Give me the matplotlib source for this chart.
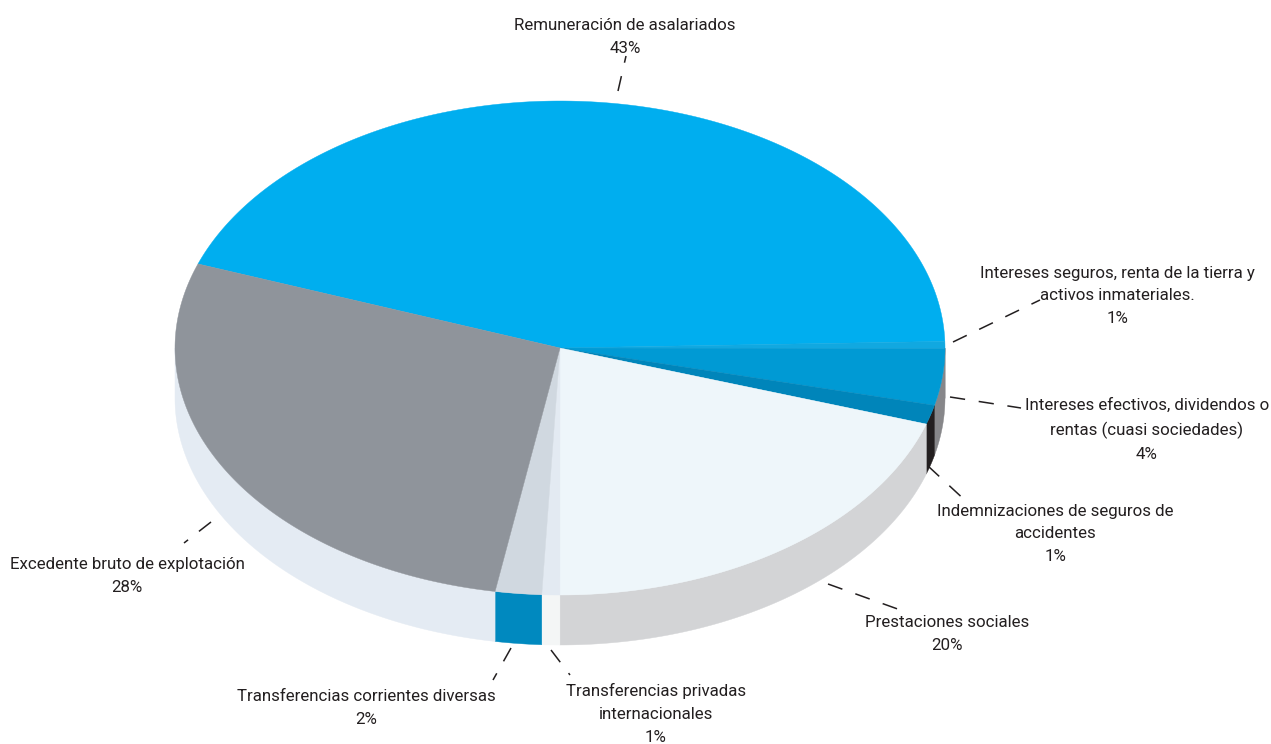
import numpy as np
import matplotlib
matplotlib.use("Agg")
import matplotlib.pyplot as plt
from matplotlib.patches import Polygon

labels = [
    "Remuneración de asalariados\n43%",
    "Intereses seguros, renta de la tierra y\nactivos inmateriales.\n1%",
    "Intereses efectivos, dividendos o\nrentas (cuasi sociedades)\n4%",
    "Indemnizaciones de seguros de\naccidentes\n1%",
    "Prestaciones sociales\n20%",
    "Transferencias privadas\ninternacionales\n1%",
    "Transferencias corrientes diversas\n2%",
    "Excedente bruto de explotación\n28%",
]
# drawn share of the pie (differs a bit from the printed %)
shares = [44.0, 0.45, 3.7, 1.25, 20.0, 0.75, 1.94, 27.8]

top_colors = ["#00AEEF", "#11A8E0", "#009AD4", "#0085BA", "#EEF6FA", "#E3EAF2", "#D0D8E0", "#8F949B"]
side_colors = ["#00AEEF", "#8A8A8D", "#87878A", "#231F20", "#D3D4D6", "#F4F6F6", "#0089BF", "#E4EBF3"]

CX, CY = 560, 348
RX, RY = 385, 247
DEPTH = 50
START = 160.1

label_pos = [(625, 37), (1117, 296), (1147, 430), (1055, 534), (947, 634), (656, 714), (366, 708), (127, 576)]
leaders = [
    ((618, 91), (626, 56)),
    ((953, 342), (1040, 300)),
    ((950, 397), (1021, 408)),
    ((928, 466), (968, 503)),
    ((828, 584), (906, 612)),
    ((551, 650), (570, 675)),
    ((511, 648), (493, 680)),
    ((211, 522), (184, 543)),
]


def arc(a1, a2):
    t = np.radians(np.linspace(a1, a2, max(int(abs(a2 - a1) * 3), 2)))
    return CX + RX * np.cos(t), CY - RY * np.sin(t)


plt.rcParams["font.family"] = ["Roboto", "Liberation Sans", "DejaVu Sans"]

fig = plt.figure(figsize=(12.71, 7.44), dpi=100)
ax = fig.add_axes([0, 0, 1, 1])
ax.set_xlim(0, 1271)
ax.set_ylim(744, 0)
ax.axis("off")

edges = START - np.cumsum([0] + shares) * 3.6 / (sum(shares) / 100)

# side wall first, only the front half shows
for i in range(len(shares)):
    lo, hi = max(edges[i + 1], -180), min(edges[i], 0)
    if hi <= lo:
        continue
    x, y = arc(hi, lo)
    pts = np.r_[np.c_[x, y], np.c_[x[::-1], y[::-1] + DEPTH]]
    ax.add_patch(Polygon(pts, closed=True, fc=side_colors[i], ec=side_colors[i], lw=0.3, zorder=2))

# top face
for i in range(len(shares)):
    x, y = arc(edges[i], edges[i + 1])
    pts = np.r_[[[CX, CY]], np.c_[x, y]]
    ax.add_patch(Polygon(pts, closed=True, fc=top_colors[i], ec=top_colors[i], lw=0.3, zorder=3))

for (p, q) in leaders:
    ax.plot([p[0], q[0]], [p[1], q[1]], color="#231F20", lw=1.1, ls=(0, (10, 9)), zorder=4)

for txt, (tx, ty) in zip(labels, label_pos):
    ax.text(tx, ty, txt, ha="center", va="center", fontsize=12.15, color="#231F20",
            linespacing=1.65, zorder=5)

fig.savefig("out.png", dpi=100)
